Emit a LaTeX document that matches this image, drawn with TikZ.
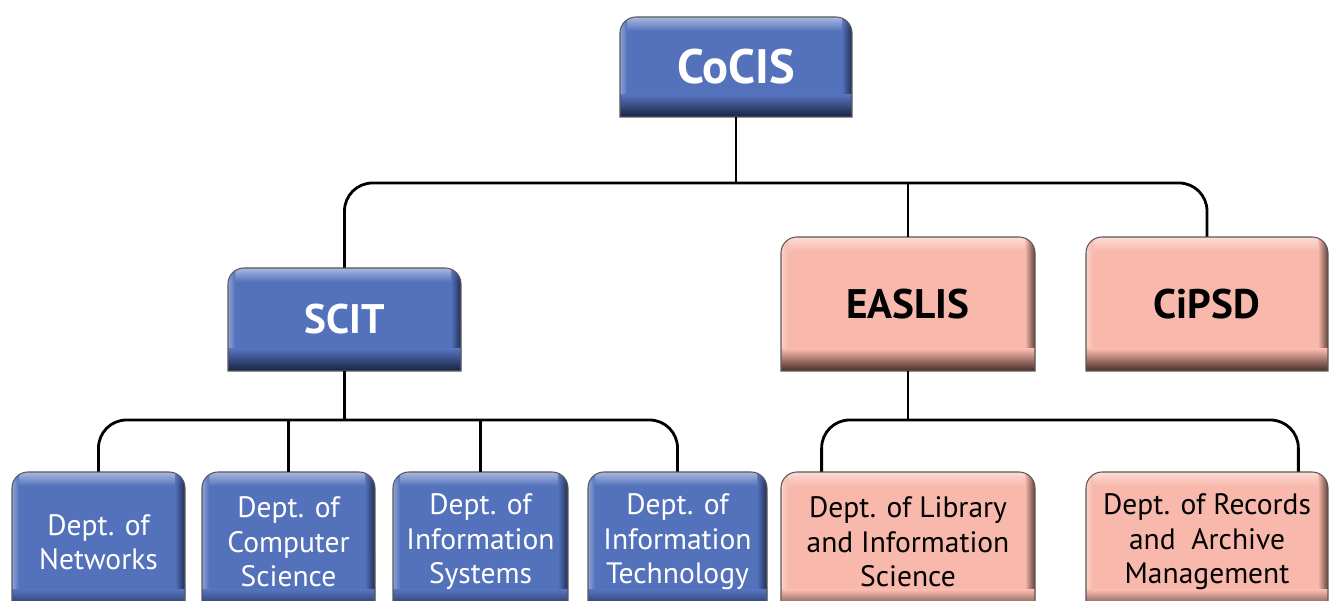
\documentclass[tikz,border=0pt]{standalone}
\usepackage{fontspec}
\setmainfont{PT Sans}
\colorlet{bluefill}{rgb,255:red,84;green,114;blue,188}
\colorlet{bluedark}{rgb,255:red,24;green,34;blue,66}
\colorlet{bluetext}{white}
\colorlet{pinkfill}{rgb,255:red,248;green,185;blue,172}
\colorlet{pinkdark}{rgb,255:red,70;green,44;blue,38}
\colorlet{pinktext}{black}
\newcommand{\UnitBox}[8]{ % name, left, top, right, bottom, colour, style, text
\begin{scope}
\clip (#2,#5) -- ++(0,{#3-#5-16}) arc[start angle=180, end angle=90, radius=0.32cm]
      -- ++({#4-#2-32},0) arc[start angle=90, end angle=0, radius=0.32cm] -- (#4,#5) -- cycle;
\fill[#6fill] (#2,#5) rectangle (#4,#3); % base colour
\shade[top color=#6fill!50!white, bottom color=#6fill] (#2,#3) rectangle (#4,{#3-14}); % top light
\shade[left color=#6fill!65!white, right color=#6fill] (#2,#3) rectangle ({#2+7},#5); % left light
\shade[left color=#6fill, right color=#6dark, fill opacity=.85] ({#4-10},#3) rectangle (#4,#5); % right dark
\shade[top color=#6fill, bottom color=#6dark] (#2,{#5+22}) rectangle (#4,#5); % bottom dark
\end{scope}
\draw[boxline] (#2,#5) -- ++(0,{#3-#5-16}) arc[start angle=180, end angle=90, radius=0.32cm]
      -- ++({#4-#2-32},0) arc[start angle=90, end angle=0, radius=0.32cm] -- (#4,#5) -- cycle;
\node[unit, #7, text=#6text, minimum width={(#4-#2)*0.02cm}, minimum height={(#3-#5)*0.02cm}]
      (#1) at ({(#2+#4)/2},{(#3+#5)/2}) {#8};
}

\begin{document}
\begin{tikzpicture}[x=0.02cm, y=0.02cm,
unit/.style={inner sep=0, align=center},
boxline/.style={draw=black!65, line width=.6pt},
link/.style={line width=1.6pt, rounded corners=0.56cm},
big/.style={font=\fontsize{27.5}{32}\selectfont\bfseries},
mid/.style={font=\fontsize{23.5}{28}\selectfont\bfseries},
dept/.style={font=\fontsize{16.8}{19.6}\selectfont},
]
\useasboundingbox (0,0) rectangle (1330,601);

%%%%%%%%%%%%%% LEVEL 1 %%%%%%%%%%%%%%
\UnitBox{cocis}{620}{584}{852}{484}{blue}{big}{CoCIS}

%%%%%%%%%%%%%% LEVEL 2 %%%%%%%%%%%%%%
\UnitBox{scit}{228}{333}{461}{230}{blue}{mid}{SCIT}
\UnitBox{easlis}{781}{364}{1035}{230}{pink}{mid}{EASLIS}
\UnitBox{cipsd}{1086}{364}{1328}{230}{pink}{mid}{CiPSD}

%%%%%%%%%%%%%% LEVEL 3 %%%%%%%%%%%%%%
\UnitBox{netw}{12}{129}{185}{-11}{blue}{dept}{Dept. of\\Networks}
\UnitBox{compsci}{202}{129}{375}{-11}{blue}{dept}{Dept. of\\Computer\\Science}
\UnitBox{infosys}{393}{129}{568}{-11}{blue}{dept}{Dept. of\\Information\\Systems}
\UnitBox{infotech}{588}{129}{767}{-11}{blue}{dept}{Dept. of\\Information\\Technology}
\UnitBox{library}{781}{129}{1035}{-11}{pink}{dept}{Dept. of Library\\and Information\\Science}
\UnitBox{records}{1086}{129}{1328}{-11}{pink}{dept}{Dept. of Records\\and~ Archive\\Management}

%%%%%%%%%%%%%% CONNECTORS %%%%%%%%%%%%%%
\coordinate (bus1) at (0,418);
\coordinate (bus2) at (0,181);
\coordinate (libdrop) at ([xshift=0.82cm]library.north west);
\coordinate (recdrop) at ([xshift=-0.6cm]records.north east);

\draw[link] (cocis.south) -- (cocis.south |- bus1);
\draw[link] (scit.north) |- (cipsd.north |- bus1) -- (cipsd.north);
\draw[link] (easlis.north) -- (easlis.north |- bus1);

\draw[link] (scit.south) -- (scit.south |- bus2);
\draw[link] (netw.north) |- (infotech.north |- bus2) -- (infotech.north);
\draw[link] (compsci.north) -- (compsci.north |- bus2);
\draw[link] (infosys.north) -- (infosys.north |- bus2);

\draw[link] (easlis.south) -- (easlis.south |- bus2);
\draw[link] (libdrop) |- (recdrop |- bus2) -- (recdrop);
\end{tikzpicture}
\end{document}
